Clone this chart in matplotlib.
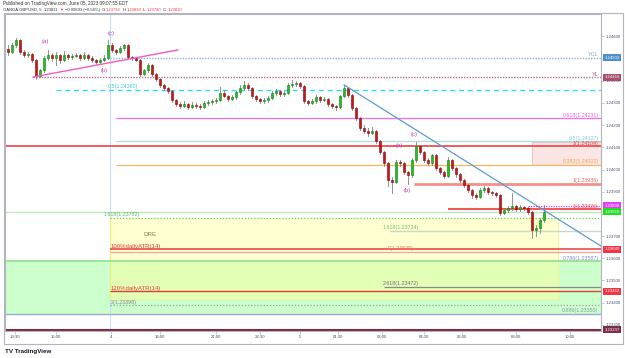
import matplotlib
matplotlib.use('Agg')
import matplotlib.pyplot as plt
from matplotlib.patches import Rectangle
import matplotlib.transforms as mtransforms

plt.rcParams['font.family'] = ['Liberation Sans', 'DejaVu Sans']

# ---------------- data ----------------
closes = [1.24530, 1.24561, 1.24584, 1.24530, 1.24516, 1.24520, 1.24493, 1.24421, 1.24448, 1.24502,
          1.24516, 1.24502, 1.24518, 1.24493, 1.24514, 1.24507, 1.24511, 1.24516, 1.24502, 1.24515,
          1.24503, 1.24493, 1.24484, 1.24494, 1.24502, 1.24561, 1.24539, 1.24530, 1.24548, 1.24561,
          1.24507, 1.24502, 1.24493, 1.24430, 1.24448, 1.24471, 1.24430, 1.24408, 1.24381, 1.24367,
          1.24354, 1.24313, 1.24295, 1.24286, 1.24295, 1.24282, 1.24291, 1.24286, 1.24281, 1.24300,
          1.24304, 1.24309, 1.24313, 1.24345, 1.24331, 1.24318, 1.24327, 1.24349, 1.24367, 1.24381,
          1.24367, 1.24331, 1.24318, 1.24309, 1.24313, 1.24322, 1.24345, 1.24354, 1.24340, 1.24345,
          1.24381, 1.24385, 1.24390, 1.24376, 1.24309, 1.24300, 1.24309, 1.24327, 1.24313, 1.24318,
          1.24295, 1.24286, 1.24282, 1.24331, 1.24367, 1.24336, 1.24277, 1.24232, 1.24187, 1.24173,
          1.24164, 1.24173, 1.24128, 1.24079, 1.24029, 1.23952, 1.23943, 1.24034, 1.24029, 1.23988,
          1.23975, 1.24042, 1.24106, 1.24079, 1.24042, 1.24029, 1.24065, 1.24006, 1.23988, 1.23970,
          1.24042, 1.24006, 1.23979, 1.23952, 1.23930, 1.23907, 1.23885, 1.23876, 1.23907, 1.23916,
          1.23898, 1.23894, 1.23885, 1.23804, 1.23817, 1.23826, 1.23835, 1.23822, 1.23831, 1.23826,
          1.23808, 1.23727, 1.23736, 1.23772, 1.23810]
highs = [1.24560, 1.24570, 1.24593, 1.24590, 1.24538, 1.24530, 1.24525, 1.24498, 1.24455, 1.24512,
         1.24540, 1.24525, 1.24530, 1.24522, 1.24535, 1.24520, 1.24520, 1.24525, 1.24522, 1.24528,
         1.24520, 1.24510, 1.24500, 1.24502, 1.24515, 1.24585, 1.24570, 1.24545, 1.24555, 1.24568,
         1.24565, 1.24512, 1.24508, 1.24498, 1.24455, 1.24478, 1.24476, 1.24435, 1.24412, 1.24385,
         1.24372, 1.24358, 1.24318, 1.24305, 1.24310, 1.24300, 1.24305, 1.24298, 1.24296, 1.24308,
         1.24315, 1.24318, 1.24322, 1.24372, 1.24358, 1.24336, 1.24335, 1.24356, 1.24380, 1.24398,
         1.24388, 1.24372, 1.24336, 1.24324, 1.24322, 1.24330, 1.24352, 1.24362, 1.24360, 1.24352,
         1.24390, 1.24402, 1.24398, 1.24396, 1.24380, 1.24315, 1.24318, 1.24335, 1.24332, 1.24328,
         1.24322, 1.24300, 1.24292, 1.24338, 1.24382, 1.24372, 1.24340, 1.24282, 1.24236, 1.24200,
         1.24185, 1.24190, 1.24178, 1.24132, 1.24085, 1.24035, 1.23965, 1.24045, 1.24042, 1.24034,
         1.23995, 1.24050, 1.24125, 1.24112, 1.24085, 1.24050, 1.24072, 1.24070, 1.24012, 1.23995,
         1.24055, 1.24048, 1.24012, 1.23985, 1.23958, 1.23935, 1.23912, 1.23892, 1.23918, 1.23925,
         1.23922, 1.23905, 1.23900, 1.23890, 1.23826, 1.23835, 1.23895, 1.23842, 1.23840, 1.23836,
         1.23830, 1.23812, 1.23750, 1.23780, 1.23839]
lows = [1.24515, 1.24525, 1.24552, 1.24520, 1.24505, 1.24508, 1.24485, 1.24410, 1.24415, 1.24440,
        1.24495, 1.24490, 1.24470, 1.24480, 1.24488, 1.24498, 1.24500, 1.24505, 1.24495, 1.24496,
        1.24495, 1.24485, 1.24474, 1.24476, 1.24488, 1.24496, 1.24530, 1.24522, 1.24525, 1.24540,
        1.24500, 1.24495, 1.24488, 1.24420, 1.24425, 1.24440, 1.24422, 1.24400, 1.24374, 1.24358,
        1.24345, 1.24305, 1.24285, 1.24278, 1.24280, 1.24272, 1.24276, 1.24278, 1.24272, 1.24276,
        1.24292, 1.24296, 1.24300, 1.24308, 1.24325, 1.24310, 1.24312, 1.24320, 1.24342, 1.24360,
        1.24358, 1.24322, 1.24308, 1.24300, 1.24302, 1.24306, 1.24316, 1.24338, 1.24332, 1.24330,
        1.24340, 1.24372, 1.24378, 1.24368, 1.24300, 1.24292, 1.24295, 1.24302, 1.24305, 1.24308,
        1.24288, 1.24276, 1.24270, 1.24278, 1.24325, 1.24328, 1.24268, 1.24222, 1.24178, 1.24165,
        1.24150, 1.24158, 1.24118, 1.24070, 1.24018, 1.23925, 1.23895, 1.23938, 1.24018, 1.23978,
        1.23935, 1.23968, 1.24035, 1.24068, 1.24032, 1.24020, 1.24022, 1.23998, 1.23978, 1.23960,
        1.23965, 1.23996, 1.23968, 1.23942, 1.23920, 1.23898, 1.23872, 1.23866, 1.23870, 1.23900,
        1.23890, 1.23885, 1.23876, 1.23796, 1.23798, 1.23808, 1.23818, 1.23812, 1.23814, 1.23816,
        1.23798, 1.23690, 1.23700, 1.23715, 1.23765]
first_open = 1.24545
opens = [first_open] + closes[:-1]

time_labels = ['13:30', '15:00', '4', '18:00', '21:00', '22:30', '5', '01:30', '03:00',
               '04:30', '06:00', '08:00', '10:00']
time_ticks = [1.7, 12, 25.7, 38, 52, 63, 73, 82.5, 93.5, 104, 113.5, 127, 140.5]
price_ticks = [1.233, 1.234, 1.235, 1.236, 1.237, 1.238, 1.239, 1.240, 1.241, 1.242,
               1.243, 1.244, 1.245, 1.246]

# ---------------- figure ----------------
W, H = 625, 358
fig = plt.figure(figsize=(W / 100, H / 100), dpi=100)
fig.patch.set_facecolor('white')

def fx(px):
    return px / W

def fy(py):
    return 1 - py / H

ax = fig.add_axes([fx(5), fy(331), fx(601) - fx(5), fy(14) - fy(331)])
XMIN, XMAX = -0.75, 148.25
YMIN, YMAX = 1.23272, 1.24701
ax.set_xlim(XMIN, XMAX)
ax.set_ylim(YMIN, YMAX)
ax.set_facecolor('white')

AXC = '#b2b5be'
for s in ax.spines.values():
    s.set_color(AXC)
    s.set_linewidth(0.8)

TXT = '#4a4f7a'
ax.yaxis.tick_right()
ax.set_yticks(price_ticks)
ax.set_yticklabels(['%.5f' % p for p in price_ticks])
ax.set_xticks(time_ticks)
ax.set_xticklabels(time_labels)
ax.tick_params(axis='both', labelsize=3.1, colors=TXT, length=2, width=0.5, pad=1)
ax.tick_params(axis='both', color=AXC)

# outer frame
fig.patches.append(Rectangle((fx(4), fy(344)), fx(623) - fx(4), fy(13) - fy(344),
                             transform=fig.transFigure, fill=False, edgecolor=AXC, lw=0.8))

# ---------------- zones ----------------
ax.add_patch(Rectangle((XMIN, 1.23350), XMAX - XMIN, 1.23587 - 1.23350,
                       facecolor='#ccffcc', edgecolor='none', zorder=0.5))
ax.add_patch(Rectangle((25.5, 1.23416), 137.5 - 25.5, 1.23782 - 1.23416,
                       facecolor=(1, 1, 0.6), alpha=0.45, edgecolor='none', zorder=0.6))
ax.plot([137.5, 137.5], [1.23416, 1.23782], color='#f2f2a0', lw=0.8, zorder=0.7)
ax.plot([25.5, 137.5], [1.23416, 1.23416], color='#f2f2a0', lw=0.6, zorder=0.7)
ax.add_patch(Rectangle((131, 1.24020), XMAX - 131, 1.24125 - 1.24020,
                       facecolor='#fbe5e5', edgecolor='#f5b8b8', lw=0.6, zorder=0.5))

ax.axvline(25.5, color='#c9ddf2', lw=0.8, zorder=0.8)
ax.plot([25.5, 25.5], [1.23416, 1.23782], color='#f0f070', lw=0.8, zorder=0.9)

def hl(price, x0, color, lw=1.0, ls='-', x1=XMAX, z=1.5):
    ax.plot([x0, x1], [price, price], color=color, lw=lw, ls=ls,
            solid_capstyle='butt', zorder=z)

hl(1.24503, 25.5, '#8fb3e0', 1.0, (0, (1, 1)))
hl(1.24416, 6.25, '#b07090', 1.0, (0, (1, 1)))
hl(1.24360, 12, '#1ee0f0', 0.9, (0, (4, 3)))
hl(1.24231, 27, '#f06cf0', 0.9)
hl(1.24127, 27, '#a8dde0', 0.9)
hl(1.24104, XMIN, '#f04040', 1.2)
hl(1.24022, 27, '#fbb360', 0.9)
hl(1.23936, 101.5, '#f5908a', 2.0)
hl(1.23821, 110, '#f25a5a', 1.5)
hl(1.23836, 130, '#e040fb', 0.9, (0, (1, 1)))
hl(1.23810, XMIN, '#b8e8b8', 0.9)
hl(1.23782, 25.5, '#66cc66', 0.9, (0, (1, 1.5)))
hl(1.23724, 95.5, '#c4dcc4', 1.0)
hl(1.23640, 25.5, '#f04848', 1.2)
hl(1.23628, 25.5, '#f7a0a0', 0.9)
hl(1.23587, XMIN, '#8ee08e', 1.2)
hl(1.23472, 94, '#8a8a8a', 0.9)
hl(1.23452, 25.5, '#e53935', 1.0)
hl(1.23389, 25.5, '#a0a0a0', 0.9, (0, (1, 1.5)))
hl(1.23350, XMIN, '#9fa8da', 1.0)
hl(1.23276, XMIN, '#7b2d46', 1.5)

# ---------------- candles ----------------
UP, UPE = '#1ec31e', '#0f7d0f'
DN, DNE = '#c8161b', '#8b0000'
for i, (o, h, l, c) in enumerate(zip(opens, highs, lows, closes)):
    ax.plot([i, i], [l, h], color='#808080', lw=0.6, zorder=2)
    up = c >= o
    bottom = min(o, c)
    height = max(abs(c - o), 0.000015)
    ax.add_patch(Rectangle((i - 0.36, bottom), 0.72, height,
                           facecolor=UP if up else DN, edgecolor=UPE if up else DNE,
                           lw=0.4, zorder=2.1))

# trendlines
ax.plot([6.25, 42.5], [1.24417, 1.24539], color='#f35bc4', lw=1.0, zorder=3)
ax.plot([84, XMAX], [1.24382, 1.23655], color='#5b9bd5', lw=0.9, zorder=3)

# ---------------- labels ----------------
RX = 147.6
def rlabel(price, text, color):
    ax.text(RX, price + 0.00002, text, color=color, fontsize=3.8, ha='right', va='bottom', zorder=4)

def llabel(x, price, text, color, fs=3.8):
    ax.text(x, price + 0.00002, text, color=color, fontsize=fs, ha='left', va='bottom', zorder=4)

rlabel(1.24231, '0.618(1.24231)', '#e85ce8')
rlabel(1.24127, '0.5(1.24127)', '#80c8d8')
rlabel(1.24104, '1(1.24104)', '#f04040')
rlabel(1.24022, '0.382(1.24022)', '#f5a742')
rlabel(1.23936, '1(1.23936)', '#ee6b6b')
rlabel(1.23821, '1(1.23826)', '#ee5555')
rlabel(1.23587, '0.786(1.23587)', '#7c8ad0')
rlabel(1.23350, '0.886(1.23350)', '#8a9ab0')
ax.text(RX, 1.24503 + 0.00003, 'YCL', color='#7fa8d8', fontsize=4, ha='right', va='bottom', zorder=4)
ax.text(RX, 1.24416 + 0.00003, 'YL', color='#a0607a', fontsize=4, ha='right', va='bottom', zorder=4)

llabel(25, 1.24360, '0.5(1.24360)', '#3cc8dc')
llabel(24, 1.23782, '1.618(1.23782)', '#5cb85c')
llabel(25.75, 1.23640, '100%dailyATR(14)', '#e53935', 4.3)
llabel(25.75, 1.23452, '120%dailyATR(14)', '#e53935', 4.3)
llabel(25.75, 1.23389, '2(1.23398)', '#8a8a8a')
llabel(93.75, 1.23724, '1.618(1.23724)', '#78b878')
llabel(95, 1.23632, '0(1.23628)', '#f07070')
llabel(93.75, 1.23472, '2.618(1.23472)', '#707070')
ax.text(35.5, 1.23709, 'DRE', color='#808060', fontsize=4.5, ha='center', va='center', zorder=4)

WAVE = '#c844c8'
for x, p, t in [(9.25, 1.24575, '(a)'), (24, 1.24448, '(b)'), (25.75, 1.24611, '(c)'),
                (97.75, 1.24106, '(a)'), (99.75, 1.23907, '(b)'), (101.5, 1.24160, '(c)')]:
    ax.text(x, p, t, color=WAVE, fontsize=4.3, ha='center', va='center', zorder=4)

# axis price boxes
trans = mtransforms.blended_transform_factory(ax.transAxes, ax.transData)
for p, col, tcol in [(1.24503, '#4d8fcc', 'white'), (1.24416, '#a84f6e', 'white'),
                     (1.23836, '#e040fb', 'white'), (1.23810, '#22dd22', 'white'),
                     (1.23640, '#f23645', 'white'), (1.23452, '#f23645', 'white')]:
    ax.text(1.006, p, '%.5f' % p, transform=trans, fontsize=3.1, color=tcol, ha='left',
            va='center', clip_on=False, zorder=6,
            bbox=dict(boxstyle='square,pad=0.35', facecolor=col, edgecolor='none'))
ax.text(1.006, YMIN + 0.00006, '1.23237', transform=trans, fontsize=3.1, color='white', ha='left',
        va='center', clip_on=False, zorder=6,
        bbox=dict(boxstyle='square,pad=0.35', facecolor='#7a2e48', edgecolor='none'))

# ---------------- header & footer ----------------
HC = '#333333'
fig.text(fx(3), fy(4), 'Published on TradingView.com, June 05, 2023 09:07:55 EDT',
         fontsize=3.3, color=HC, ha='left', va='center')
hy = fy(10)
parts = [('OANDA:GBPUSD, 5', HC, 2.5), ('1.23811', HC, 1.2), ('▼', '#f23645', 1.2),
         ('−0.00693 (−0.56%)', HC, 1.5), ('O:', HC, 0.3), ('1.23792', '#f23645', 1.5),
         ('H:', HC, 0.3), ('1.23839', '#f23645', 1.5), ('L:', HC, 0.3),
         ('1.23780', '#f23645', 1.5), ('C:', HC, 0.3), ('1.23810', '#f23645', 1.5)]
renderer = fig.canvas.get_renderer()
xpos = 3.0
for t, c, gap in parts:
    tx = fig.text(fx(xpos), hy, t, fontsize=3.0, color=c, ha='left', va='center')
    bb = tx.get_window_extent(renderer)
    xpos += bb.width + gap

fig.text(fx(5), fy(352), 'TV TradingView', fontsize=4.5, color='#131722', fontweight='bold',
         ha='left', va='center')

fig.savefig('out.png', dpi=100)
